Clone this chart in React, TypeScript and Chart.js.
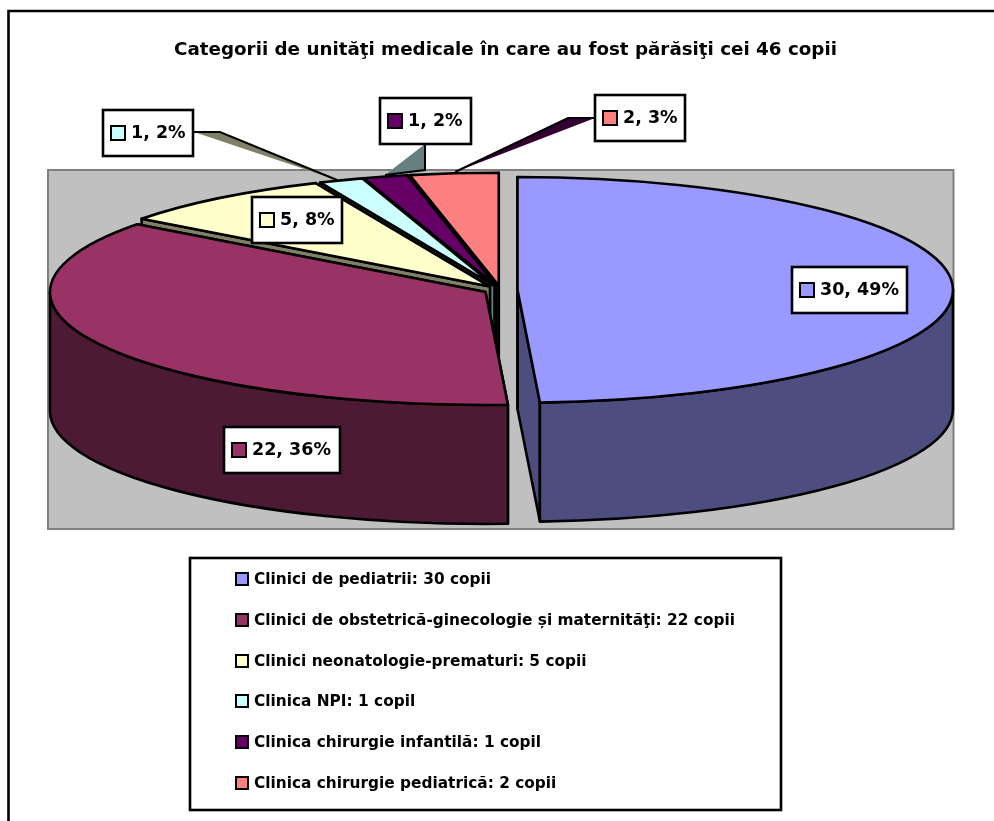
import React, { useEffect, useRef } from "react";
import { Chart, PieController, ArcElement, Title } from "chart.js";

const categories = ["Clinici de pediatrii", "Clinici de obstetrică-ginecologie și maternităţi", "Clinici neonatologie-prematuri", "Clinica NPI", "Clinica chirurgie infantilă", "Clinica chirurgie pediatrică"];
const units = ["copii", "copii", "copii", "copil", "copil", "copii"];
const children = [30, 22, 5, 1, 1, 2];
const topColors = ["#9999FF", "#993366", "#FFFFCC", "#CCFFFF", "#660066", "#FF8080"];
const wallColors = ["#4D4D80", "#4D1A33", "#808066", "#668080", "#330033", "#804040"];
const titleText = "Categorii de unităţi medicale în care au fost părăsiţi cei 46 copii";

const FONT = '"DejaVu Sans", sans-serif';
const CENTER = { x: 500.5, y: 290 };
const RADIUS = 435.5;
const TILT = 113 / 436;
const DEPTH = 119;
const EXPLODE = 17;
const STROKE = 2.6;

// label boxes: [left, top, right, bottom]
const labelBoxes = [
  [792, 267, 907, 313],
  [224, 427, 340, 473],
  [252, 197, 342, 243],
  [103, 110, 193, 156],
  [380, 98, 471, 144],
  [595, 95, 685, 141],
];
const leaders: { fill: string; pts: number[][] }[] = [
  { fill: "#808066", pts: [[194, 132], [220, 132], [337, 180]] },
  { fill: "#668080", pts: [[425, 144], [425, 170], [385, 175]] },
  { fill: "#330033", pts: [[595, 118], [568, 118], [455, 172]] },
];
const legendRowsY = [579, 620, 661, 701, 742, 783];

class Pie3D extends PieController {
  static id = "pie3d";
  draw() {
    const ctx = this.chart.ctx;
    const arcs = this.getMeta().data as any[];
    const geo = arcs.map((a) => {
      const mid = (a.startAngle + a.endAngle) / 2;
      const dx = CENTER.x - a.x;
      return {
        a, s: a.startAngle, e: a.endAngle,
        r: a.outerRadius,
        tx: dx + EXPLODE * Math.cos(mid),
        ty: EXPLODE * Math.sin(mid) * TILT,
        cx: a.x + dx + EXPLODE * Math.cos(mid),
        cy: CENTER.y + EXPLODE * Math.sin(mid) * TILT,
      };
    });
    ctx.save();
    ctx.lineJoin = "round";
    ctx.strokeStyle = "#000";
    ctx.lineWidth = STROKE;
    // side walls, back to front
    for (let i = geo.length - 1; i >= 0; i--) {
      const g = geo[i];
      const b = g.r * TILT;
      ctx.fillStyle = wallColors[i];
      for (const t of [g.e, g.s]) {
        const px = g.cx + g.r * Math.cos(t);
        const py = g.cy + b * Math.sin(t);
        ctx.beginPath();
        ctx.moveTo(g.cx, g.cy);
        ctx.lineTo(px, py);
        ctx.lineTo(px, py + DEPTH);
        ctx.lineTo(g.cx, g.cy + DEPTH);
        ctx.closePath();
        ctx.fill();
        ctx.stroke();
      }
      const lo = Math.max(g.s, 0);
      const hi = Math.min(g.e, Math.PI);
      if (hi > lo) {
        ctx.beginPath();
        ctx.ellipse(g.cx, g.cy, g.r, b, 0, lo, hi);
        ctx.ellipse(g.cx, g.cy + DEPTH, g.r, b, 0, hi, lo, true);
        ctx.closePath();
        ctx.fill();
        ctx.stroke();
      }
    }
    // top faces drawn by the arc elements, squashed into an ellipse
    geo.forEach((g) => {
      ctx.save();
      ctx.translate(g.tx, CENTER.y + g.ty);
      ctx.scale(1, TILT);
      ctx.translate(0, -g.a.y);
      g.a.draw(ctx);
      ctx.restore();
    });
    // even outlines
    geo.forEach((g) => {
      ctx.beginPath();
      ctx.moveTo(g.cx, g.cy);
      ctx.ellipse(g.cx, g.cy, g.r, g.r * TILT, 0, g.s, g.e);
      ctx.closePath();
      ctx.stroke();
    });
    ctx.restore();
  }
}

const framePlugin = {
  id: "frame",
  beforeDraw(chart: any) {
    const ctx = chart.ctx;
    ctx.save();
    ctx.fillStyle = "#fff";
    ctx.fillRect(0, 0, 994, 821);
    ctx.strokeStyle = "#000";
    ctx.lineWidth = 2.6;
    ctx.beginPath();
    ctx.moveTo(8.5, 825);
    ctx.lineTo(8.5, 11);
    ctx.lineTo(998, 11);
    ctx.stroke();
    ctx.restore();
  },
  beforeDatasetsDraw(chart: any) {
    const ctx = chart.ctx;
    ctx.save();
    ctx.fillStyle = "#C0C0C0";
    ctx.fillRect(48, 170, 905, 359);
    ctx.strokeStyle = "#808080";
    ctx.lineWidth = 2;
    ctx.strokeRect(48, 170, 905.5, 359);
    ctx.restore();
  },
  afterDatasetsDraw(chart: any) {
    const ctx = chart.ctx;
    const total = children.reduce((s, v) => s + v, 0);
    ctx.save();
    ctx.lineJoin = "miter";
    leaders.forEach((l) => {
      ctx.fillStyle = l.fill;
      ctx.beginPath();
      l.pts.forEach((p, i) => (i ? ctx.lineTo(p[0], p[1]) : ctx.moveTo(p[0], p[1])));
      ctx.closePath();
      ctx.fill();
      ctx.strokeStyle = "#000";
      ctx.lineWidth = 2;
      ctx.beginPath();
      l.pts.forEach((p, i) => (i ? ctx.lineTo(p[0], p[1]) : ctx.moveTo(p[0], p[1])));
      ctx.stroke();
    });
    const swatch = (x: number, yMid: number, size: number, color: string) => {
      ctx.fillStyle = color;
      ctx.strokeStyle = "#000";
      ctx.lineWidth = 2;
      ctx.fillRect(x, yMid - size / 2, size, size);
      ctx.strokeRect(x, yMid - size / 2, size, size);
    };
    ctx.textBaseline = "middle";
    ctx.textAlign = "left";
    children.forEach((v, i) => {
      const [l, t, r, b] = labelBoxes[i];
      ctx.fillStyle = "#fff";
      ctx.strokeStyle = "#000";
      ctx.lineWidth = 2.6;
      ctx.fillRect(l, t, r - l, b - t);
      ctx.strokeRect(l, t, r - l, b - t);
      const ym = (t + b) / 2;
      swatch(l + 8, ym, 14, topColors[i]);
      ctx.fillStyle = "#000";
      ctx.font = `bold 17.5px ${FONT}`;
      ctx.fillText(`${v}, ${Math.round((v / total) * 100)}%`, l + 28, ym);
    });
    // legend
    ctx.fillStyle = "#fff";
    ctx.strokeStyle = "#000";
    ctx.lineWidth = 2.6;
    ctx.fillRect(190, 558, 591, 252);
    ctx.strokeRect(190, 558, 591, 252);
    categories.forEach((c, i) => {
      swatch(236, legendRowsY[i], 12, topColors[i]);
      ctx.fillStyle = "#000";
      ctx.font = `bold 15.35px ${FONT}`;
      ctx.fillText(`${c}: ${children[i]} ${units[i]}`, 254, legendRowsY[i] + 1);
    });
    ctx.restore();
  },
};

Chart.register(Pie3D, ArcElement, Title);

export default function App() {
  const ref = useRef<HTMLCanvasElement>(null);
  useEffect(() => {
    const chart = new Chart(ref.current as HTMLCanvasElement, {
      type: "pie3d" as any,
      data: {
        labels: categories,
        datasets: [{ data: children, backgroundColor: topColors, borderWidth: 0, clip: false } as any],
      },
      options: {
        responsive: false,
        animation: false,
        radius: RADIUS,
        layout: { padding: { left: 17, top: 39 } },
        plugins: {
          legend: { display: false },
          tooltip: { enabled: false },
          title: {
            display: true,
            text: titleText,
            color: "#000",
            font: { family: FONT, size: 18.3, weight: "bold" },
            padding: { top: 0, bottom: 0 },
          },
        },
      } as any,
      plugins: [framePlugin],
    });
    return () => chart.destroy();
  }, []);
  return <canvas ref={ref} width={994} height={821} style={{ position: "fixed", left: 0, top: 0 }} />;
}
